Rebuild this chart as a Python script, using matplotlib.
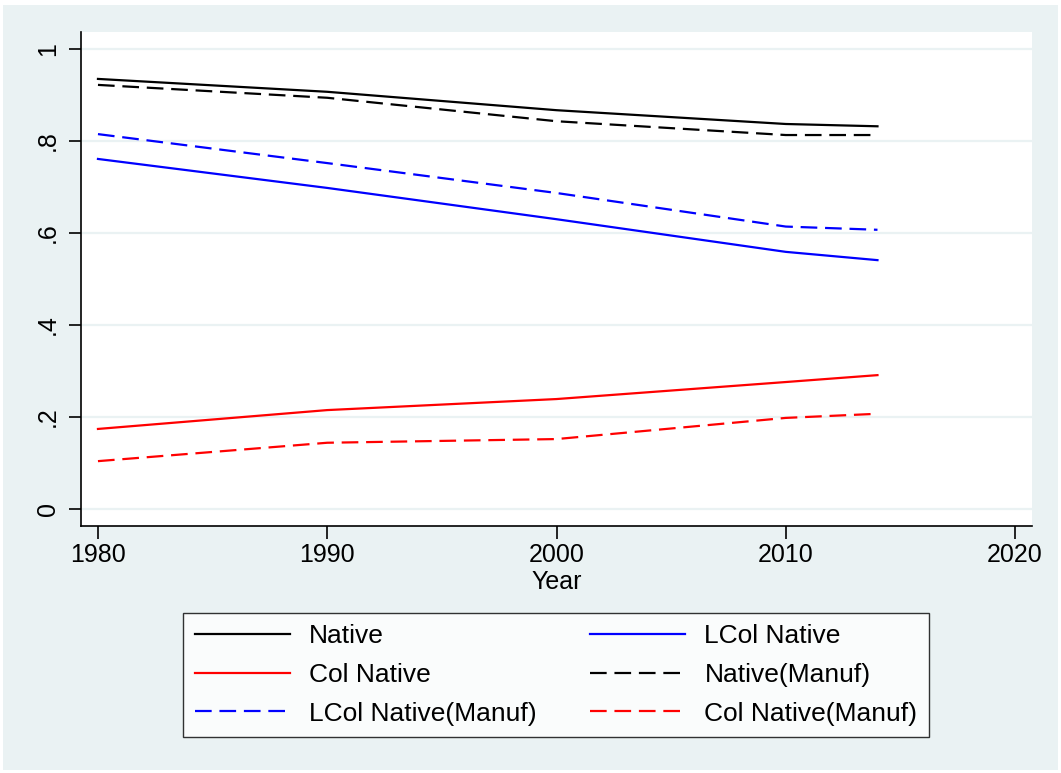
import matplotlib.pyplot as plt
from matplotlib.patches import Rectangle

plt.rcParams['font.family'] = ['Liberation Sans', 'DejaVu Sans']

# values
years = [1980, 1990, 2000, 2010, 2014]
native = [0.935, 0.907, 0.867, 0.837, 0.832]
lcol_native = [0.761, 0.698, 0.630, 0.559, 0.541]
col_native = [0.174, 0.215, 0.239, 0.276, 0.291]
native_manuf = [0.922, 0.894, 0.843, 0.813, 0.813]
lcol_native_manuf = [0.815, 0.752, 0.687, 0.614, 0.607]
col_native_manuf = [0.104, 0.144, 0.152, 0.198, 0.207]

xticks = [1980, 1990, 2000, 2010, 2020]
yticks = [0, 0.2, 0.4, 0.6, 0.8, 1.0]
ylabels = ["0", ".2", ".4", ".6", ".8", "1"]

bg = "#EAF2F3"
W, H = 1061, 773
fig = plt.figure(figsize=(W / 100, H / 100), dpi=100, facecolor="white")
fig.patches.append(Rectangle((3 / W, 3 / H), 1 - 6 / W, 1 - 8 / H,
                             transform=fig.transFigure, facecolor=bg,
                             edgecolor="none", zorder=-10))

ax = fig.add_axes([81 / W, 1 - 526 / H, (1032 - 81) / W, (526 - 32) / H])
ax.set_facecolor("white")

lw = 1.6
dash = (0, (7.5, 3.5))
ax.plot(years, native, color="black", lw=lw, label="Native")
ax.plot(years, lcol_native, color="blue", lw=lw, label="LCol Native")
ax.plot(years, col_native, color="red", lw=lw, label="Col Native")
ax.plot(years, native_manuf, color="black", lw=lw, ls=dash, label="Native(Manuf)")
ax.plot(years, lcol_native_manuf, color="blue", lw=lw, ls=dash, label="LCol Native(Manuf)")
ax.plot(years, col_native_manuf, color="red", lw=lw, ls=dash, label="Col Native(Manuf)")

ax.set_xlim(1979.26, 2020.74)
ax.set_ylim(-0.037, 1.037)
ax.set_xticks(xticks)
ax.set_yticks(yticks)
ax.set_yticklabels(ylabels, rotation=90, va="center")
ax.tick_params(axis="both", labelsize=18, length=9, width=1.2, direction="out")
ax.tick_params(axis="y", pad=6)
ax.set_xlabel("Year", fontsize=18, labelpad=2)

for y in yticks:
    ax.axhline(y, color=bg, lw=1.6, zorder=0)

for s in ["top", "right"]:
    ax.spines[s].set_visible(False)
for s in ["left", "bottom"]:
    ax.spines[s].set_linewidth(1.2)

handles, labels = ax.get_legend_handles_labels()
# row-wise order like the reference: Native, LCol Native / Col Native, Native(Manuf) / ...
order = [0, 2, 4, 1, 3, 5]
leg = fig.legend([handles[i] for i in order], [labels[i] for i in order],
                 ncol=2, loc="center",
                 bbox_to_anchor=((181 + 931) / 2 / W, 1 - 675 / H),
                 fontsize=19, frameon=True, fancybox=False,
                 handlelength=3.6, handletextpad=0.75, columnspacing=2.0,
                 labelspacing=0.55, borderpad=0.45)
leg.get_frame().set_edgecolor("black")
leg.get_frame().set_linewidth(1.0)

fig.savefig("out.png", dpi=100, facecolor=fig.get_facecolor())
